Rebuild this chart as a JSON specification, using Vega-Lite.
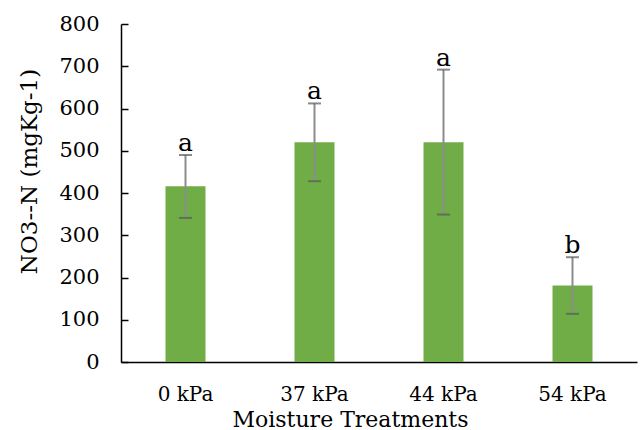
{
  "$schema": "https://vega.github.io/schema/vega-lite/v6.json",
  "width": 516,
  "height": 338,
  "autosize": {"type": "none"},
  "padding": {"left": 121, "top": 24, "right": 6, "bottom": 68},
  "background": "white",
  "config": {
    "view": {"stroke": null},
    "font": "DejaVu Serif"
  },
  "data": {
    "values": [
      {"treatment": "0 kPa", "mean": 416, "lo": 341, "hi": 490, "letter": "a"},
      {"treatment": "37 kPa", "mean": 520, "lo": 428, "hi": 612, "letter": "a"},
      {"treatment": "44 kPa", "mean": 520, "lo": 349, "hi": 692, "letter": "a"},
      {"treatment": "54 kPa", "mean": 181, "lo": 114, "hi": 248, "letter": "b"}
    ]
  },
  "encoding": {
    "x": {
      "field": "treatment",
      "type": "nominal",
      "sort": null,
      "scale": {"paddingInner": 0.69, "paddingOuter": 0.345},
      "axis": {
        "title": "Moisture Treatments",
        "labelAngle": 0,
        "ticks": false,
        "labelPadding": 22,
        "labelFont": "DejaVu Serif",
        "labelFontSize": 20,
        "labelColor": "#000000",
        "domainColor": "#000000",
        "domainWidth": 1.5,
        "titleFont": "DejaVu Serif",
        "titleFontSize": 22,
        "titleFontWeight": "normal",
        "titleColor": "#000000",
        "titleX": 229,
        "titleY": 64,
        "titleBaseline": "alphabetic",
        "titleAlign": "center"
      }
    }
  },
  "layer": [
    {
      "mark": {"type": "bar", "color": "#70AD47"},
      "encoding": {
        "y": {
          "field": "mean",
          "type": "quantitative",
          "scale": {"domain": [0, 800], "nice": false},
          "axis": {
            "title": "NO3--N (mgKg-1)",
            "values": [0, 100, 200, 300, 400, 500, 600, 700, 800],
            "grid": false,
            "tickSize": -7,
            "tickColor": "#000000",
            "tickWidth": 1.5,
            "labelPadding": 29,
            "labelFont": "DejaVu Serif",
            "labelFontSize": 21,
            "labelColor": "#000000",
            "domainColor": "#000000",
            "domainWidth": 1.5,
            "titleFont": "DejaVu Serif",
            "titleFontSize": 23,
            "titleFontWeight": "normal",
            "titleColor": "#000000",
            "titleX": -92,
            "titleY": 147,
            "titleAlign": "center",
            "titleBaseline": "middle"
          }
        }
      }
    },
    {
      "mark": {"type": "rule", "color": "#8c8c8c", "strokeWidth": 2},
      "encoding": {
        "y": {"field": "lo", "type": "quantitative"},
        "y2": {"field": "hi"}
      }
    },
    {
      "mark": {"type": "tick", "color": "#595959", "thickness": 2, "size": 13, "orient": "horizontal"},
      "encoding": {"y": {"field": "lo", "type": "quantitative"}}
    },
    {
      "mark": {"type": "tick", "color": "#595959", "thickness": 2, "size": 13, "orient": "horizontal"},
      "encoding": {"y": {"field": "hi", "type": "quantitative"}}
    },
    {
      "mark": {"type": "text", "font": "DejaVu Serif", "fontSize": 25, "color": "#000000", "baseline": "alphabetic", "dy": -4},
      "encoding": {
        "y": {"field": "hi", "type": "quantitative"},
        "text": {"field": "letter"}
      }
    }
  ]
}
